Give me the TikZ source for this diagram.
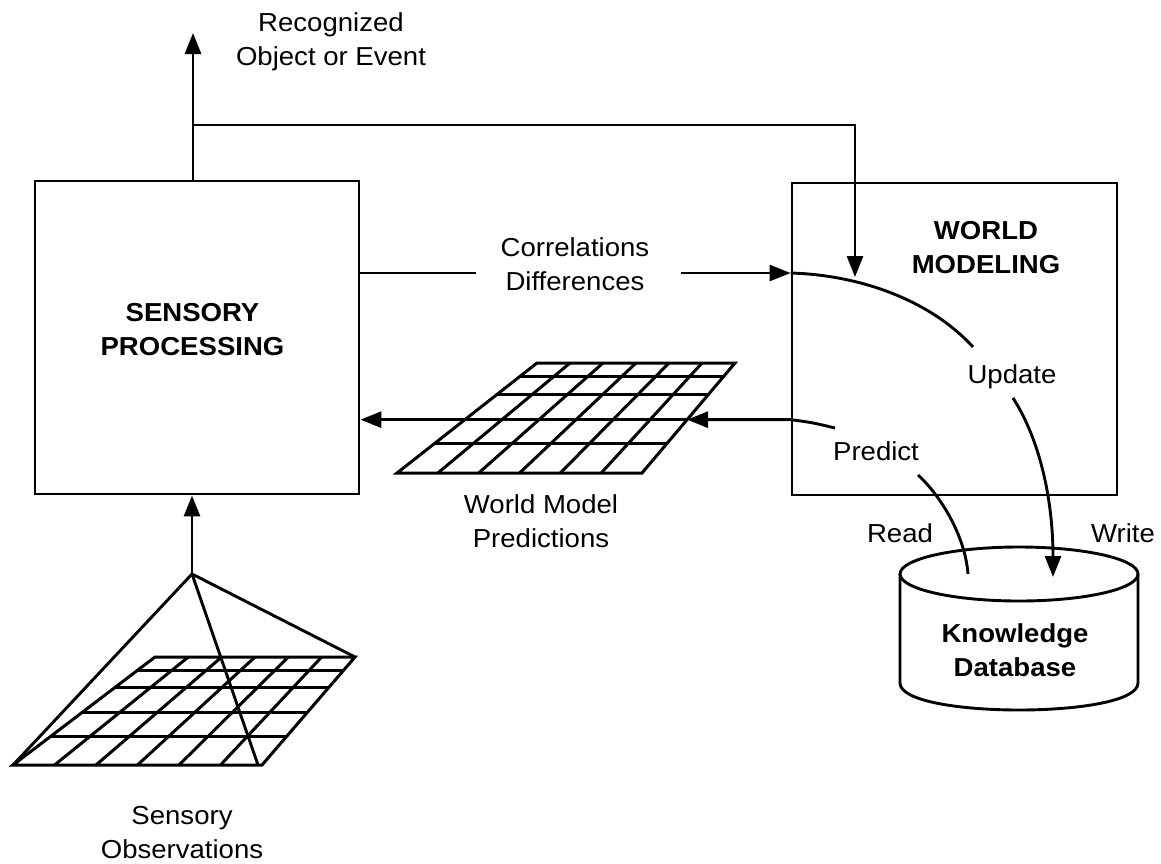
\documentclass[tikz,border=0pt]{standalone}
\usepackage{fontspec}
\setmainfont{Liberation Sans}[FakeStretch=1.06]
\usetikzlibrary{arrows.meta,calc}

% perspective grid: corners top-left, top-right, bottom-left, bottom-right
\newcommand\perspgrid[4]{%
  \draw[gridline] (#1) -- (#2) -- (#4) -- (#3) -- cycle;
  \foreach \rowt in {.125,.285,.515,.735}
    \draw[gridline] ($(#1)!\rowt!(#3)$) -- ($(#2)!\rowt!(#4)$);
  \foreach \colk in {1,...,5}
    \draw[gridline] ($(#1)!{\colk/6}!(#2)$) -- ($(#3)!{\colk/6}!(#4)$);
}

\begin{document}
\begin{tikzpicture}[x=1pt,y=-1pt,
  line width=2.9pt,
  every node/.style={font=\fontsize{26}{34}\selectfont, align=center, inner sep=0pt},
  box/.style={draw, line width=2.9pt, inner sep=0pt},
  lbl/.style={font=\fontsize{26}{34}\selectfont\bfseries, align=center},
  arr/.style={-{Triangle[length=21pt,width=16pt]}},
  gridline/.style={line width=3pt, line join=miter},
]
\useasboundingbox (0,0) rectangle (1161,863);

% main blocks
\node[box, minimum width=324, minimum height=313] (sp) at (197,337.5) {};
\node[box, minimum width=325, minimum height=312] (wm) at (954.5,339) {};
\node[lbl] (splbl) at (192.5,329.5) {SENSORY\\PROCESSING};
\node[lbl] (wmlbl) at (986,247.5) {WORLD\\MODELING};

% knowledge database cylinder
\draw (1019,574) ellipse [x radius=119, y radius=27];
\draw (900,574) -- (900,683) .. controls (900,719) and (1138,719) .. (1138,683) -- (1138,574);
\node[lbl] (kdlbl) at (1015,650.5) {Knowledge\\Database};

% labels
\node (reclbl) at (331,42) {Recognized\\Object or Event};
\node (cd) at (575,264.5) {Correlations\\Differences};
\node (obslbl) at (182,832.5) {Sensory\\Observations};
\node (wmp) at (541,521) {World Model\\Predictions};
\node[anchor=base] (upd) at (1012,383) {Update};
\node[anchor=base] (prd) at (876,460) {Predict};
\node[anchor=base] (rd) at (900,542) {Read};
\node[anchor=base] (wr) at (1123,542) {Write};

% grids
\coordinate (pTL) at (537,363);
\coordinate (pTR) at (735,363);
\coordinate (pBL) at (397,473);
\coordinate (pBR) at (642,473);
\perspgrid{pTL}{pTR}{pBL}{pBR}

\coordinate (oTL) at (155,657);
\coordinate (oTR) at (355,657);
\coordinate (oBL) at (13,765);
\coordinate (oBR) at (262,765);
\perspgrid{oTL}{oTR}{oBL}{oBR}

% sensor pyramid
\coordinate (apex) at (192,574);
\draw[line join=round] (oBL) -- (apex) -- (oTR);
\draw (apex) -- ($(oBL)!.984!(oBR)$);
\draw[arr] (apex) -- (sp.south -| apex);

% output and feedback
\coordinate (rec) at (193,33);
\coordinate (br) at (193,125);
\coordinate (fb) at (855,277);
\draw[arr] (sp.north -| rec) -- (rec);
\draw[arr] (br) -| (fb);

% correlations / differences
\coordinate (cdL) at (476,273);
\coordinate (cdR) at (681,273);
\draw (sp.east |- cdL) -- (cdL);
\draw[arr] (cdR) -- (wm.west |- cdR);
\coordinate (u1) at (973,347);
\draw (wm.west |- cdR) .. controls (860,275) and (930,300) .. (u1);

% update -> write
\coordinate (u2) at (1013,398);
\coordinate (w1) at (1053,577);
\draw[arr] (u2) .. controls (1040,440) and (1053,500) .. (w1);

% predict
\coordinate (p1) at (835,428);
\coordinate (prTip) at ($(pTR)!.515!(pBR)$);
\draw[arr] (p1) .. controls (812,422.5) .. (wm.west |- prTip) -- (prTip);
\draw[arr] ($(pTL)!.515!(pBL)$) -- (sp.east |- prTip);

% read
\coordinate (r1) at (918,475);
\coordinate (r2) at (968,574);
\draw (r1) .. controls (940,495) and (965,535) .. (r2);
\end{tikzpicture}
\end{document}
